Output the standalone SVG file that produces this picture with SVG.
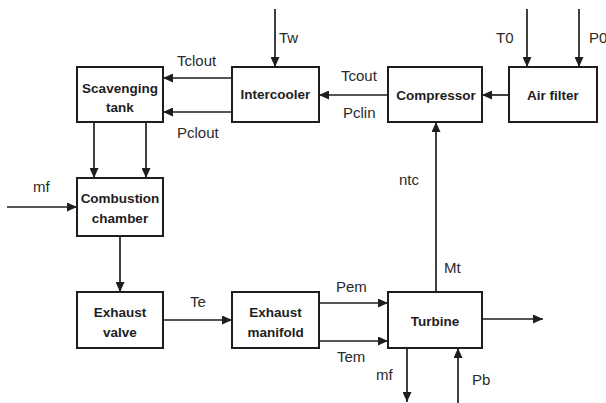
<svg xmlns="http://www.w3.org/2000/svg" width="606" height="403" viewBox="0 0 606 403">
<style>
.box{fill:#fff;stroke:#1e1e1e;stroke-width:2}
.bl{font-family:"Liberation Sans",Arial,sans-serif;font-weight:bold;font-size:13.5px;fill:#1e1e1e;text-anchor:middle}
.el{font-family:"Liberation Sans",Arial,sans-serif;font-size:15px;fill:#2a2a2a}
.c{stroke:#1e1e1e;stroke-width:1.7;fill:none;marker-end:url(#ah)}
.p{stroke:#1e1e1e;stroke-width:1.7;fill:none}
</style>
<defs>
<marker id="ah" markerUnits="userSpaceOnUse" markerWidth="11" markerHeight="9" refX="10" refY="4.5" orient="auto">
<path d="M0,0 L10,4.5 L0,9 z" fill="#1e1e1e"/>
</marker>
</defs>
<rect width="606" height="403" fill="#fff"/>
<g id="connectors">
<line class="c" x1="275" y1="9" x2="275" y2="67"/>
<line class="c" x1="232" y1="78" x2="163" y2="78"/>
<line class="c" x1="232" y1="112" x2="163" y2="112"/>
<line class="c" x1="94" y1="122" x2="94" y2="178"/>
<line class="c" x1="146" y1="122" x2="146" y2="178"/>
<line class="c" x1="7" y1="207" x2="77" y2="207"/>
<line class="c" x1="120" y1="236" x2="120" y2="292"/>
<line class="c" x1="163" y1="320" x2="232" y2="320"/>
<line class="c" x1="319" y1="303" x2="388" y2="303"/>
<line class="c" x1="319" y1="341" x2="388" y2="341"/>
<line class="c" x1="482" y1="319" x2="543" y2="319"/>
<line class="c" x1="407" y1="348" x2="407" y2="402"/>
<line class="c" x1="458" y1="403" x2="458" y2="348"/>
<line class="c" x1="436" y1="292" x2="436" y2="122"/>
<line class="c" x1="388" y1="95" x2="319" y2="95"/>
<line class="c" x1="509" y1="95" x2="482" y2="95"/>
<line class="c" x1="527" y1="9" x2="527" y2="67"/>
<line class="c" x1="579" y1="9" x2="579" y2="67"/>
</g>
<g id="labels">
<text class="el" x="279" y="43">Tw</text>
<text class="el" x="177" y="66">Tclout</text>
<text class="el" x="177" y="138">Pclout</text>
<text class="el" x="341" y="81">Tcout</text>
<text class="el" x="343" y="118">Pclin</text>
<text class="el" x="496" y="43">T0</text>
<text class="el" x="589" y="43">P0</text>
<text class="el" x="399" y="185">ntc</text>
<text class="el" x="33" y="192">mf</text>
<text class="el" x="190" y="307">Te</text>
<text class="el" x="336" y="292">Pem</text>
<text class="el" x="337" y="362">Tem</text>
<text class="el" x="444" y="273">Mt</text>
<text class="el" x="376" y="380">mf</text>
<text class="el" x="472" y="385">Pb</text>
</g>
<g id="scavenging-tank">
<rect class="box" x="77" y="67" width="86" height="55"/>
<text class="bl" x="120" y="93">Scavenging</text>
<text class="bl" x="120" y="112">tank</text>
</g>
<g id="intercooler">
<rect class="box" x="232" y="67" width="87" height="55"/>
<text class="bl" x="275.5" y="99">Intercooler</text>
</g>
<g id="compressor">
<rect class="box" x="388" y="67" width="94" height="55"/>
<text class="bl" x="436" y="100">Compressor</text>
</g>
<g id="air-filter">
<rect class="box" x="509" y="67" width="88" height="55"/>
<text class="bl" x="553" y="100">Air filter</text>
</g>
<g id="combustion-chamber">
<rect class="box" x="77" y="178" width="86" height="58"/>
<text class="bl" x="120" y="203">Combustion</text>
<text class="bl" x="120" y="223">chamber</text>
</g>
<g id="exhaust-valve">
<rect class="box" x="77" y="292" width="86" height="56"/>
<text class="bl" x="120" y="317">Exhaust</text>
<text class="bl" x="120" y="337">valve</text>
</g>
<g id="exhaust-manifold">
<rect class="box" x="232" y="292" width="87" height="56"/>
<text class="bl" x="275.5" y="317">Exhaust</text>
<text class="bl" x="275.5" y="337">manifold</text>
</g>
<g id="turbine">
<rect class="box" x="388" y="292" width="94" height="56"/>
<text class="bl" x="435" y="326">Turbine</text>
</g>
</svg>
